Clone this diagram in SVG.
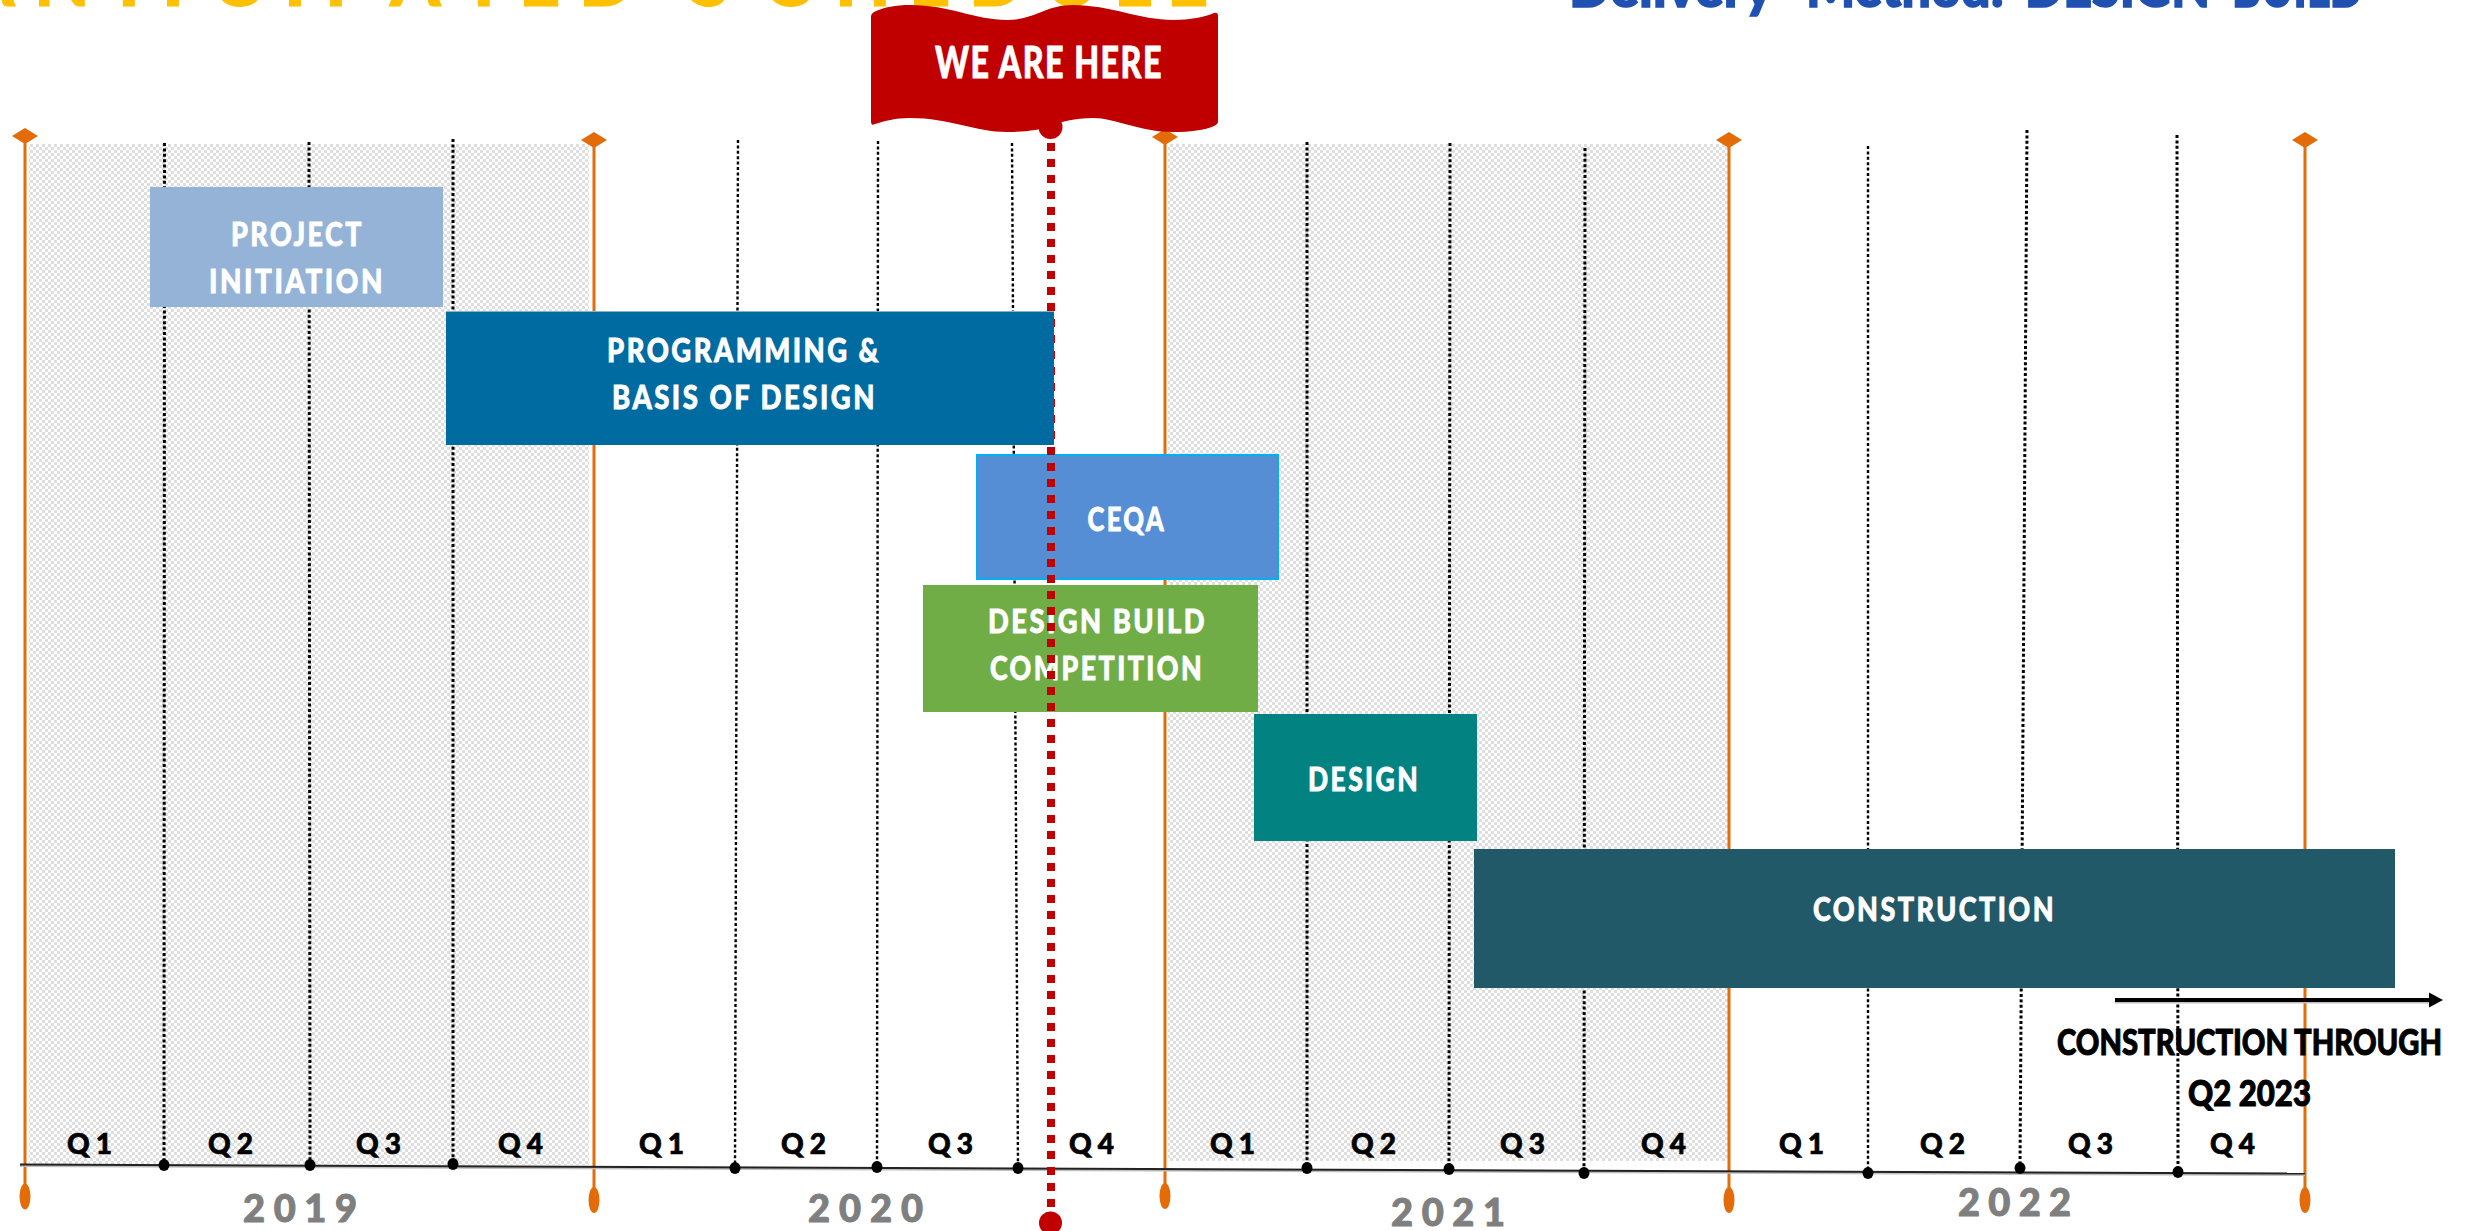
<svg xmlns="http://www.w3.org/2000/svg" width="2470" height="1231" viewBox="0 0 2470 1231">
<style>
text{font-family:"Lato","Noto Sans",sans-serif;font-weight:900}
.bar{fill:#fff;stroke:#fff;stroke-width:.8px;font-size:33px;letter-spacing:3px}
.q{fill:#000;stroke:#000;stroke-width:.7px;font-size:28px}
.yr{fill:#7f7f7f;stroke:#7f7f7f;stroke-width:1px;font-size:38px}
.or{stroke:#e36c09;stroke-width:3;fill:none}
.od{fill:#e36c09}
.dot{stroke:#000;stroke-width:3;stroke-dasharray:3 2.4;fill:none}
.tk{fill:#000}
.title{fill:#ffc000;stroke:#ffc000;stroke-width:1px;font-size:72px}
.del{fill:#2050b0;stroke:#2050b0;stroke-width:1.5px;font-size:56px}
.note{fill:#000;stroke:#000;stroke-width:1px;font-size:36px}
.flagt{fill:#fff;stroke:#fff;stroke-width:.8px;font-size:44px;letter-spacing:2px}
</style>
<defs>
<pattern id="hatch" width="6" height="6" patternUnits="userSpaceOnUse">
<rect width="6" height="6" fill="#fff"/>
<rect x="0" y="0" width="3" height="3" fill="#dedede"/>
<rect x="3" y="3" width="3" height="3" fill="#dedede"/>
</pattern>
</defs>
<rect width="2470" height="1231" fill="#fff"/>
<text class="title" x="-36 34 107 162 212 284 325 390 462 519 579" y="6">ANTICIPATED</text>
<text class="title" x="690 763 835 909 969 1045 1114 1167" y="6">SCHEDULE</text>
<g id="delivery-method">
<text class="del" x="1569" y="7" textLength="204" lengthAdjust="spacingAndGlyphs">Delivery</text>
<text class="del" x="1806" y="7" textLength="198" lengthAdjust="spacingAndGlyphs">Method:</text>
<text class="del" x="2025" y="7" textLength="185" lengthAdjust="spacingAndGlyphs">DESIGN</text>
<text class="del" x="2232" y="7" textLength="131" lengthAdjust="spacingAndGlyphs">BUILD</text>
</g>
<g id="shading">
<rect x="29" y="144" width="560" height="1021" fill="url(#hatch)"/>
<rect x="1168" y="144" width="561" height="1017" fill="url(#hatch)"/>
</g>
<g id="connectors">
<line class="or" x1="25" y1="136" x2="25" y2="1197"/>
<line class="or" x1="594" y1="140" x2="594" y2="1200"/>
<line class="or" x1="1165" y1="137" x2="1165" y2="1196"/>
<line class="or" x1="1729" y1="140" x2="1729" y2="1200"/>
<line class="or" x1="2305" y1="140" x2="2305" y2="1200"/>
<line class="dot" x1="164.5" y1="143" x2="164" y2="1165"/>
<line class="dot" x1="309" y1="142" x2="310" y2="1165"/>
<line class="dot" x1="453" y1="139" x2="453" y2="1164"/>
<line class="dot" x1="738" y1="140" x2="735" y2="1168" style="stroke-width:2.4"/>
<line class="dot" x1="878" y1="141" x2="877" y2="1167" style="stroke-width:2.4"/>
<line class="dot" x1="1012" y1="143" x2="1018" y2="1168" style="stroke-width:2.4"/>
<line class="dot" x1="1307" y1="142" x2="1307" y2="1168"/>
<line class="dot" x1="1450" y1="143" x2="1449" y2="1169"/>
<line class="dot" x1="1585" y1="148" x2="1584" y2="1173"/>
<line class="dot" x1="1868" y1="146" x2="1868" y2="1173" style="stroke-width:2.4"/>
<line class="dot" x1="2027" y1="130" x2="2020" y2="1168"/>
<line class="dot" x1="2177" y1="135" x2="2178" y2="1172"/>
<line x1="20" y1="1166" x2="2305" y2="1175" stroke="#bfbfbf" stroke-width="2"/>
<line x1="20" y1="1164.5" x2="2305" y2="1173.5" stroke="#222" stroke-width="2"/>
<g class="tk">
<ellipse cx="164" cy="1165" rx="5.5" ry="6"/>
<ellipse cx="310" cy="1165" rx="5.5" ry="6"/>
<ellipse cx="453" cy="1164" rx="5.5" ry="6"/>
<ellipse cx="735" cy="1168" rx="5.5" ry="6"/>
<ellipse cx="877" cy="1167" rx="5.5" ry="6"/>
<ellipse cx="1018" cy="1168" rx="5.5" ry="6"/>
<ellipse cx="1307" cy="1168" rx="5.5" ry="6"/>
<ellipse cx="1449" cy="1169" rx="5.5" ry="6"/>
<ellipse cx="1584" cy="1173" rx="5.5" ry="6"/>
<ellipse cx="1868" cy="1173" rx="5.5" ry="6"/>
<ellipse cx="2020" cy="1168" rx="5.5" ry="6"/>
<ellipse cx="2178" cy="1172" rx="5.5" ry="6"/>
</g>
<g class="od">
<polygon points="12,136 25,128 38,136 25,144"/>
<polygon points="581,140 594,132 607,140 594,148"/>
<polygon points="1152,137 1165,129 1178,137 1165,145"/>
<polygon points="1716,140 1729,132 1742,140 1729,148"/>
<polygon points="2292,140 2305,132 2318,140 2305,148"/>
<ellipse cx="25" cy="1196.5" rx="5.5" ry="13"/>
<ellipse cx="594" cy="1200" rx="5.5" ry="13"/>
<ellipse cx="1165" cy="1196" rx="5.5" ry="13"/>
<ellipse cx="1729" cy="1200" rx="5.5" ry="13"/>
<ellipse cx="2305" cy="1200" rx="5.5" ry="13"/>
</g>
</g>
<g id="quarters">
<text class="q" x="67" y="1154" textLength="45" lengthAdjust="spacing">Q1</text>
<text class="q" x="208" y="1154" textLength="45" lengthAdjust="spacing">Q2</text>
<text class="q" x="356" y="1154" textLength="45" lengthAdjust="spacing">Q3</text>
<text class="q" x="498" y="1154" textLength="45" lengthAdjust="spacing">Q4</text>
<text class="q" x="639" y="1154" textLength="45" lengthAdjust="spacing">Q1</text>
<text class="q" x="781" y="1154" textLength="45" lengthAdjust="spacing">Q2</text>
<text class="q" x="928" y="1154" textLength="45" lengthAdjust="spacing">Q3</text>
<text class="q" x="1069" y="1154" textLength="45" lengthAdjust="spacing">Q4</text>
<text class="q" x="1210" y="1154" textLength="45" lengthAdjust="spacing">Q1</text>
<text class="q" x="1351" y="1154" textLength="45" lengthAdjust="spacing">Q2</text>
<text class="q" x="1500" y="1154" textLength="45" lengthAdjust="spacing">Q3</text>
<text class="q" x="1641" y="1154" textLength="45" lengthAdjust="spacing">Q4</text>
<text class="q" x="1779" y="1154" textLength="45" lengthAdjust="spacing">Q1</text>
<text class="q" x="1920" y="1154" textLength="45" lengthAdjust="spacing">Q2</text>
<text class="q" x="2068" y="1154" textLength="45" lengthAdjust="spacing">Q3</text>
<text class="q" x="2210" y="1154" textLength="45" lengthAdjust="spacing">Q4</text>
</g>
<g id="years">
<text class="yr" x="243" y="1222" textLength="114" lengthAdjust="spacing">2019</text>
<text class="yr" x="808" y="1222" textLength="115" lengthAdjust="spacing">2020</text>
<text class="yr" x="1391" y="1226" textLength="114" lengthAdjust="spacing">2021</text>
<text class="yr" x="1958" y="1216" textLength="113" lengthAdjust="spacing">2022</text>
</g>
<g id="project-initiation">
<rect x="150" y="187" width="293" height="120" fill="#95b3d7"/>
<text class="bar" x="231" y="246" textLength="133" lengthAdjust="spacingAndGlyphs">PROJECT</text>
<text class="bar" x="209" y="293" textLength="176" lengthAdjust="spacingAndGlyphs">INITIATION</text>
</g>
<g id="ceqa">
<rect x="977" y="455" width="301" height="124" fill="#558ed5" stroke="#00b0f0" stroke-width="2"/>
<text class="bar" x="1087.5" y="531" textLength="78.5" lengthAdjust="spacingAndGlyphs">CEQA</text>
</g>
<g id="design-build-competition">
<rect x="923" y="585" width="335" height="127" fill="#70ad47"/>
<text class="bar" x="988" y="633" textLength="219" lengthAdjust="spacingAndGlyphs">DESIGN BUILD</text>
<text class="bar" x="990" y="680" textLength="214" lengthAdjust="spacingAndGlyphs">COMPETITION</text>
</g>
<g id="design">
<rect x="1254" y="714" width="223" height="127" fill="#038282"/>
<text class="bar" x="1308" y="791" textLength="112" lengthAdjust="spacingAndGlyphs">DESIGN</text>
</g>
<g id="construction">
<rect x="1474" y="849" width="921" height="139" fill="#215968"/>
<text class="bar" x="1813" y="921" textLength="243" lengthAdjust="spacingAndGlyphs">CONSTRUCTION</text>
</g>
<g id="today-line">
<line x1="1051" y1="143" x2="1051" y2="1208" stroke="#c00000" stroke-width="8" stroke-dasharray="8 8"/>
<circle cx="1050.5" cy="1223" r="11.5" fill="#c00000"/>
</g>
<g id="we-are-here">
<circle cx="1050.5" cy="127" r="12" fill="#c00000"/>
<path d="M871,16 Q871,14 874,12 C885,7 895,5 910,5 C950,5 975,20 1007,20 C1035,20 1045,5 1073,5 C1110,5 1140,20 1173,20 C1190,20 1205,17 1214,13 Q1218,12 1218,16 L1218,122 Q1218,124 1214,126 C1205,130 1190,132 1173,132 C1140,132 1115,118 1093,118 C1075,118 1060,122 1050,126 C1040,130 1025,132 1007,132 C975,132 950,118 910,118 C895,118 885,121 875,124 Q871,126 871,122 Z" fill="#c00000"/>
<text class="flagt" x="935" y="78" textLength="228" lengthAdjust="spacingAndGlyphs">WE ARE HERE</text>
</g>
<g id="programming-basis-of-design">
<rect x="446" y="311" width="608" height="134" fill="#006ba1"/>
<line x1="446" y1="311.5" x2="1054" y2="311.5" stroke="#7fb5d0" stroke-width="1"/>
<text class="bar" x="607" y="362" textLength="274" lengthAdjust="spacingAndGlyphs">PROGRAMMING &amp;</text>
<text class="bar" x="612" y="409" textLength="265" lengthAdjust="spacingAndGlyphs">BASIS OF DESIGN</text>
</g>
<g id="construction-through">
<line x1="2115" y1="1002" x2="2430" y2="1002" stroke="#bfbfbf" stroke-width="3"/>
<line x1="2115" y1="1000" x2="2431" y2="1000" stroke="#000" stroke-width="4"/>
<polygon points="2429,992.5 2443,1000 2429,1007.5" fill="#000"/>
<text class="note" x="2057" y="1055" textLength="385" lengthAdjust="spacingAndGlyphs">CONSTRUCTION THROUGH</text>
<text class="note" x="2188" y="1106" textLength="123" lengthAdjust="spacingAndGlyphs">Q2 2023</text>
</g>
</svg>
